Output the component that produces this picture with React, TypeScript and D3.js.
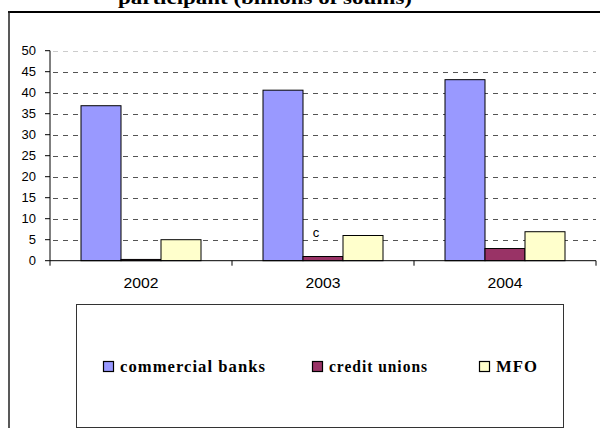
import React from "react";
import * as d3 from "d3";

const categories = ["2002", "2003", "2004"];
const seriesNames = ["commercial banks", "credit unions", "MFO"];
const commercialBanks = [36.9, 40.6, 43.1];
const creditUnions = [0.3, 1.0, 2.9];
const mfo = [5.0, 6.0, 6.9];
const yTicks = [0, 5, 10, 15, 20, 25, 30, 35, 40, 45, 50];
const colors = ["#9999FF", "#993366", "#FFFFCC"];
const titleText = "participant (billions of soums)";

export default function App() {
  const W = 600, H = 428;
  const plotLeft = 50, plotRight = 596, plotTop = 50.7, plotBottom = 260.7;
  const series = [commercialBanks, creditUnions, mfo];

  const x0 = d3.scaleBand().domain(categories).range([plotLeft, plotRight]).paddingInner(0).paddingOuter(0);
  const x1 = d3.scaleBand().domain(seriesNames).range([0, x0.bandwidth()]).paddingOuter(0.775).paddingInner(0);
  const y = d3.scaleLinear().domain([0, 50]).range([plotBottom, plotTop]);

  const catBoundaries = [plotLeft, ...categories.map((c) => (x0(c) as number) + x0.bandwidth())];

  return (
    <svg width={W} height={H} style={{ position: "absolute", left: 0, top: 0, background: "#fff" }}>
      <text x={265} y={4} textAnchor="middle" fontFamily="Liberation Serif" fontWeight="bold" fontSize={18}
        textLength={294} lengthAdjust="spacingAndGlyphs">{titleText}</text>
      {/* outer frame */}
      <line x1={8} x2={600} y1={12} y2={12} stroke="#000" strokeWidth={2} />
      <line x1={9} x2={9} y1={11} y2={428} stroke="#222" strokeWidth={1.5} />

      {/* gridlines */}
      {yTicks.filter((t) => t > 0).map((t) => (
        <line key={t} x1={plotLeft} x2={plotRight} y1={Math.round(y(t)) + 0.5} y2={Math.round(y(t)) + 0.5}
          stroke={t === 50 ? "#ccc" : "#555"} strokeWidth={1} strokeDasharray="5,5" strokeDashoffset={-3} />
      ))}

      {/* bars */}
      {categories.map((c, i) => (
        <g key={c} transform={`translate(${x0(c)},0)`}>
          {seriesNames.map((s, j) => {
            const v = series[j][i];
            return (
              <rect key={s} x={x1(s) as number} y={y(v)} width={x1.bandwidth()} height={plotBottom - y(v)}
                fill={colors[j]} stroke="#000" strokeWidth={1} />
            );
          })}
        </g>
      ))}

      {/* stray label */}
      <text x={316} y={237} textAnchor="middle" fontFamily="Liberation Sans" fontSize={13}>c</text>

      {/* axes */}
      <line x1={plotLeft} x2={plotLeft} y1={plotTop} y2={plotBottom} stroke="#000" />
      <line x1={plotLeft} x2={plotRight} y1={plotBottom} y2={plotBottom} stroke="#000" />
      {yTicks.map((t) => (
        <g key={t}>
          <line x1={plotLeft - 5} x2={plotLeft} y1={y(t)} y2={y(t)} stroke="#000" />
          <text x={36} y={y(t) + 4.5} textAnchor="end" fontFamily="Liberation Sans" fontSize={13}>{t}</text>
        </g>
      ))}
      {catBoundaries.map((b, i) => (
        <line key={i} x1={b} x2={b} y1={plotBottom} y2={plotBottom + 5} stroke="#000" />
      ))}
      {categories.map((c) => (
        <text key={c} x={(x0(c) as number) + x0.bandwidth() / 2} y={288} textAnchor="middle"
          fontFamily="Liberation Sans" fontSize={14.5} textLength={35} lengthAdjust="spacingAndGlyphs">{c}</text>
      ))}

      {/* legend */}
      <rect x={76.5} y={304.5} width={487} height={123} fill="#fff" stroke="#333" strokeWidth={1} />
      {seriesNames.map((s, j) => {
        const xs = [103, 312, 479][j];
        const tl = [146, 99, 42][j];
        return (
          <g key={s}>
            <rect x={xs + 0.5} y={361.5} width={10} height={10} fill={colors[j]} stroke="#000" strokeWidth={1.2} />
            <text x={xs + 17} y={372} fontFamily="Liberation Serif" fontWeight="bold" fontSize={16}
              letterSpacing={1} textLength={tl} lengthAdjust="spacingAndGlyphs">{s}</text>
          </g>
        );
      })}
    </svg>
  );
}
